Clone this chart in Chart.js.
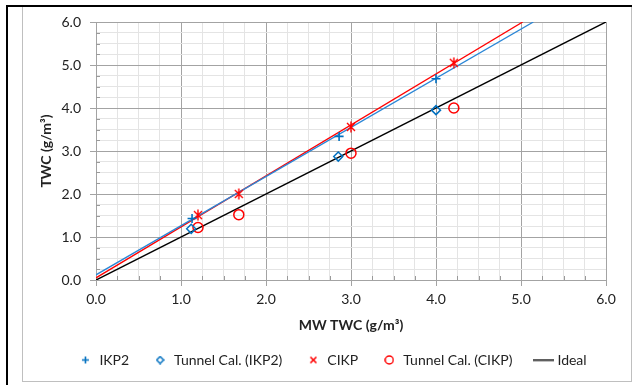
<!DOCTYPE html>
<html><head><meta charset="utf-8">
<script src="https://cdn.jsdelivr.net/npm/chart.js@4"></script>
<style>
html,body{margin:0;padding:0;background:#fff;width:637px;height:385px;overflow:hidden}
#wrap{position:absolute;left:0;top:0;width:637px;height:385px}
.f{position:absolute;pointer-events:none}
</style></head><body>
<div id="wrap"><canvas id="c" width="637" height="385"></canvas></div>
<div class="f" style="left:22px;top:6px;width:610px;height:376px;border:1px solid #bfbfbf;box-sizing:border-box"></div>
<div class="f" style="left:6px;top:5px;width:626px;height:2px;background:#000"></div>
<div class="f" style="left:6px;top:5px;width:2px;height:380px;background:#000"></div>
<script>
// ---- data ----
const ikp2X = [1.13, 2.86, 4.00];
const ikp2Y = [1.43, 3.34, 4.68];
const tunIkp2X = [1.12, 2.85, 4.00];
const tunIkp2Y = [1.19, 2.87, 3.95];
const cikpX = [1.20, 1.68, 3.00, 4.21];
const cikpY = [1.51, 2.00, 3.56, 5.05];
const tunCikpX = [1.20, 1.68, 3.00, 4.21];
const tunCikpY = [1.22, 1.52, 2.95, 4.00];
const idealX = [0, 6];
const idealY = [0, 6];
const trendIkp2X = [0, 5.145];
const trendIkp2Y = [0.12, 6.0];
const trendCikpX = [0, 5.02];
const trendCikpY = [0.05, 6.0];
const tickLabels = ['0.0','1.0','2.0','3.0','4.0','5.0','6.0'];
const seriesLabels = ['IKP2','Tunnel Cal. (IKP2)','CIKP','Tunnel Cal. (CIKP)','Ideal'];
const xTitle = 'MW TWC (g/m³)';
const yTitle = 'TWC (g/m³)';

const BLUE = '#0070c0', BLUE_LINE = '#2a86d6', RED = '#ff0000';
const FONT = 'Lato, "Open Sans", sans-serif';

const pts = (xs, ys) => xs.map((x, i) => ({x, y: ys[i]}));

function icon(kind, color, w, h, lw) {
  const c = document.createElement('canvas'); c.width = w; c.height = h;
  const g = c.getContext('2d'); g.strokeStyle = color; g.lineWidth = lw;
  const mx = w / 2, my = h / 2;
  g.beginPath();
  if (kind === 'plus') { g.moveTo(mx, 1); g.lineTo(mx, h - 1); g.moveTo(1, my); g.lineTo(w - 1, my); }
  else if (kind === 'diamond') { g.moveTo(mx, 1); g.lineTo(w - 1, my); g.lineTo(mx, h - 1); g.lineTo(1, my); g.closePath(); }
  else if (kind === 'x') { g.moveTo(1.5, 1.5); g.lineTo(w - 1.5, h - 1.5); g.moveTo(w - 1.5, 1.5); g.lineTo(1.5, h - 1.5); }
  else if (kind === 'star') { g.moveTo(2, 2); g.lineTo(w - 2, h - 2); g.moveTo(w - 2, 2); g.lineTo(2, h - 2); g.moveTo(mx, 0.5); g.lineTo(mx, h - 0.5); }
  else if (kind === 'circle') { g.arc(mx, my, Math.min(w, h) / 2 - 1, 0, Math.PI * 2); }
  else if (kind === 'line') { g.moveTo(0, my); g.lineTo(w, my); }
  g.stroke();
  return c;
}
const starMarker = icon('star', RED, 12, 12, 1.4);
const legendIcons = [
  icon('plus', BLUE, 9, 9, 1.6),
  icon('diamond', BLUE, 9, 9, 1.5),
  icon('x', RED, 9, 9, 1.6),
  icon('circle', RED, 10, 10, 1.5),
  icon('line', '#000', 21, 3, 1.5)
];

const isMajor = v => Math.abs(v - Math.round(v)) < 1e-9;

const minorTicks = {
  id: 'minorTicks',
  beforeDatasetsDraw(chart) {
    const {ctx, chartArea: a, scales: {x, y}} = chart;
    ctx.save(); ctx.strokeStyle = '#9a9a9a'; ctx.lineWidth = 1;
    ctx.beginPath();
    x.ticks.forEach(t => { if (!isMajor(t.value)) { const p = Math.round(x.getPixelForValue(t.value)) + 0.5; ctx.moveTo(p, a.bottom); ctx.lineTo(p, a.bottom - 4); } });
    y.ticks.forEach(t => { if (!isMajor(t.value)) { const p = Math.round(y.getPixelForValue(t.value)) + 0.5; ctx.moveTo(a.left, p); ctx.lineTo(a.left + 4, p); } });
    ctx.stroke(); ctx.restore();
  }
};
// shift the legend row so it is centred like the reference
const legendShift = {
  id: 'legendShift',
  afterLayout(chart) { if (chart.legend) { chart.legend.left += 17; chart.legend.right += 17; } }
};

const gridColor = c => isMajor(c.tick.value) ? '#a3a3a3' : '#e4e4e4';
const tickColor = c => isMajor(c.tick.value) ? '#a3a3a3' : 'rgba(0,0,0,0)';

new Chart(document.getElementById('c'), {
  type: 'scatter',
  data: {
    datasets: [
      {label: seriesLabels[0], data: pts(ikp2X, ikp2Y), pointStyle: 'cross', pointRadius: 4.5, pointHoverRadius: 4.5, pointBorderWidth: 1.6, borderColor: BLUE, backgroundColor: BLUE, order: 1},
      {label: seriesLabels[1], data: pts(tunIkp2X, tunIkp2Y), pointStyle: 'rectRot', pointRadius: 4.5, pointHoverRadius: 4.5, pointBorderWidth: 1.5, borderColor: BLUE, backgroundColor: 'rgba(0,0,0,0)', order: 1},
      {label: seriesLabels[2], data: pts(cikpX, cikpY), pointStyle: starMarker, pointRadius: 6, order: 1},
      {label: seriesLabels[3], data: pts(tunCikpX, tunCikpY), pointStyle: 'circle', pointRadius: 5, pointHoverRadius: 5, pointBorderWidth: 1.5, borderColor: RED, backgroundColor: 'rgba(0,0,0,0)', order: 1},
      {label: seriesLabels[4], data: pts(idealX, idealY), showLine: true, pointRadius: 0, borderColor: '#000', borderWidth: 1.5, order: 2},
      {label: 'trend1', trend: true, data: pts(trendIkp2X, trendIkp2Y), showLine: true, pointRadius: 0, borderColor: BLUE_LINE, borderWidth: 1.3, order: 2},
      {label: 'trend2', trend: true, data: pts(trendCikpX, trendCikpY), showLine: true, pointRadius: 0, borderColor: RED, borderWidth: 1.3, order: 2}
    ]
  },
  options: {
    responsive: false, animation: false, devicePixelRatio: 1,
    layout: {padding: {left: 25, right: 31, top: 22, bottom: 8}},
    scales: {
      x: {
        type: 'linear', min: 0, max: 6,
        afterFit: s => { s.height = 49; },
        ticks: {stepSize: 0.25, maxTicksLimit: 100, autoSkip: false, maxRotation: 0, padding: 5, color: '#222', font: {family: FONT, size: 14},
          callback: v => isMajor(v) ? tickLabels[Math.round(v)] : ''},
        grid: {color: gridColor, tickColor: tickColor, tickLength: 6, lineWidth: 1},
        border: {color: '#a3a3a3', width: 1},
        title: {display: true, text: xTitle, color: '#222', font: {family: FONT, size: 14, weight: 'bold', lineHeight: 1}, padding: {top: 0, bottom: -3}}
      },
      y: {
        type: 'linear', min: 0, max: 6,
        afterFit: s => { s.width = 71; },
        ticks: {stepSize: 0.25, maxTicksLimit: 100, autoSkip: false, padding: 9, color: '#222', font: {family: FONT, size: 14},
          callback: v => isMajor(v) ? tickLabels[Math.round(v)] : ''},
        grid: {color: gridColor, tickColor: tickColor, tickLength: 6, lineWidth: 1},
        border: {color: '#a3a3a3', width: 1},
        title: {display: true, text: yTitle, color: '#222', font: {family: FONT, size: 14, weight: 'bold', lineHeight: 1}, padding: {top: 14, bottom: 0}}
      }
    },
    plugins: {
      tooltip: {enabled: false},
      legend: {
        display: true, position: 'bottom',
        labels: {
          usePointStyle: true, boxWidth: 14, boxHeight: 14, padding: 24, color: '#222', font: {family: FONT, size: 14},
          generateLabels: chart => chart.data.datasets.map((ds, i) => ({
            text: ds.label, pointStyle: legendIcons[i], datasetIndex: i, hidden: false,
            fillStyle: 'rgba(0,0,0,0)', strokeStyle: 'rgba(0,0,0,0)', lineWidth: 0, fontColor: '#222'
          })).filter(l => !chart.data.datasets[l.datasetIndex].trend)
        }
      }
    }
  },
  plugins: [minorTicks, legendShift]
});
</script>
</body></html>
